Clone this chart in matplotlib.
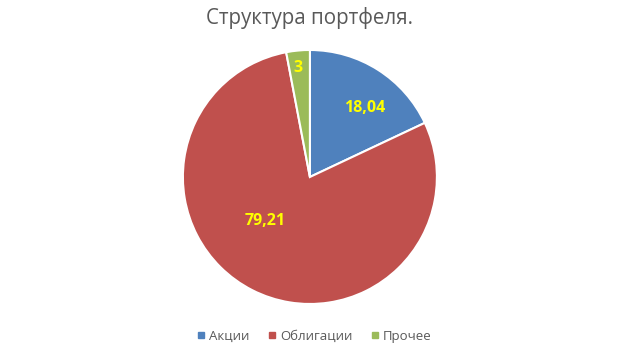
import matplotlib.pyplot as plt
from matplotlib.lines import Line2D

plt.rcParams['font.family'] = ['Open Sans', 'DejaVu Sans']

# data
categories = ['Акции', 'Облигации', 'Прочее']
values = [18.04, 79.21, 3]
value_labels = ['18,04', '79,21', '3']
colors = ['#4F81BD', '#C0504D', '#9BBB59']

fig = plt.figure(figsize=(6.2, 3.55), dpi=100)
ax = fig.add_axes([0.295, 0.1437, 254 / 620, 254 / 355])

wedges, _ = ax.pie(values, colors=colors, startangle=90, counterclock=False,
                   wedgeprops=dict(edgecolor='white', linewidth=1.5))
ax.set_xlim(-1, 1)
ax.set_ylim(-1, 1)
ax.set_aspect('equal')

# label positions (Excel best-fit style)
label_pos = [(0.43, 0.54), (-0.35, -0.35), (-0.095, 0.86)]
for (x, y), txt in zip(label_pos, value_labels):
    ax.text(x, y, txt, ha='center', va='center', color='#FFFF00',
            fontsize=11.5, fontweight='bold')

fig.text(0.5, 0.948, 'Структура портфеля.', ha='center', va='center',
         fontsize=14.8, color='#595959')

handles = [Line2D([], [], marker='s', linestyle='', color=c, markersize=4.5)
           for c in colors]
fig.legend(handles, categories, loc='center', bbox_to_anchor=(0.505, 0.052),
           ncol=3, frameon=False, fontsize=9.5, labelcolor='#595959',
           handletextpad=0.1, columnspacing=1.2, handlelength=1.0)

fig.savefig('out.png', dpi=100)
